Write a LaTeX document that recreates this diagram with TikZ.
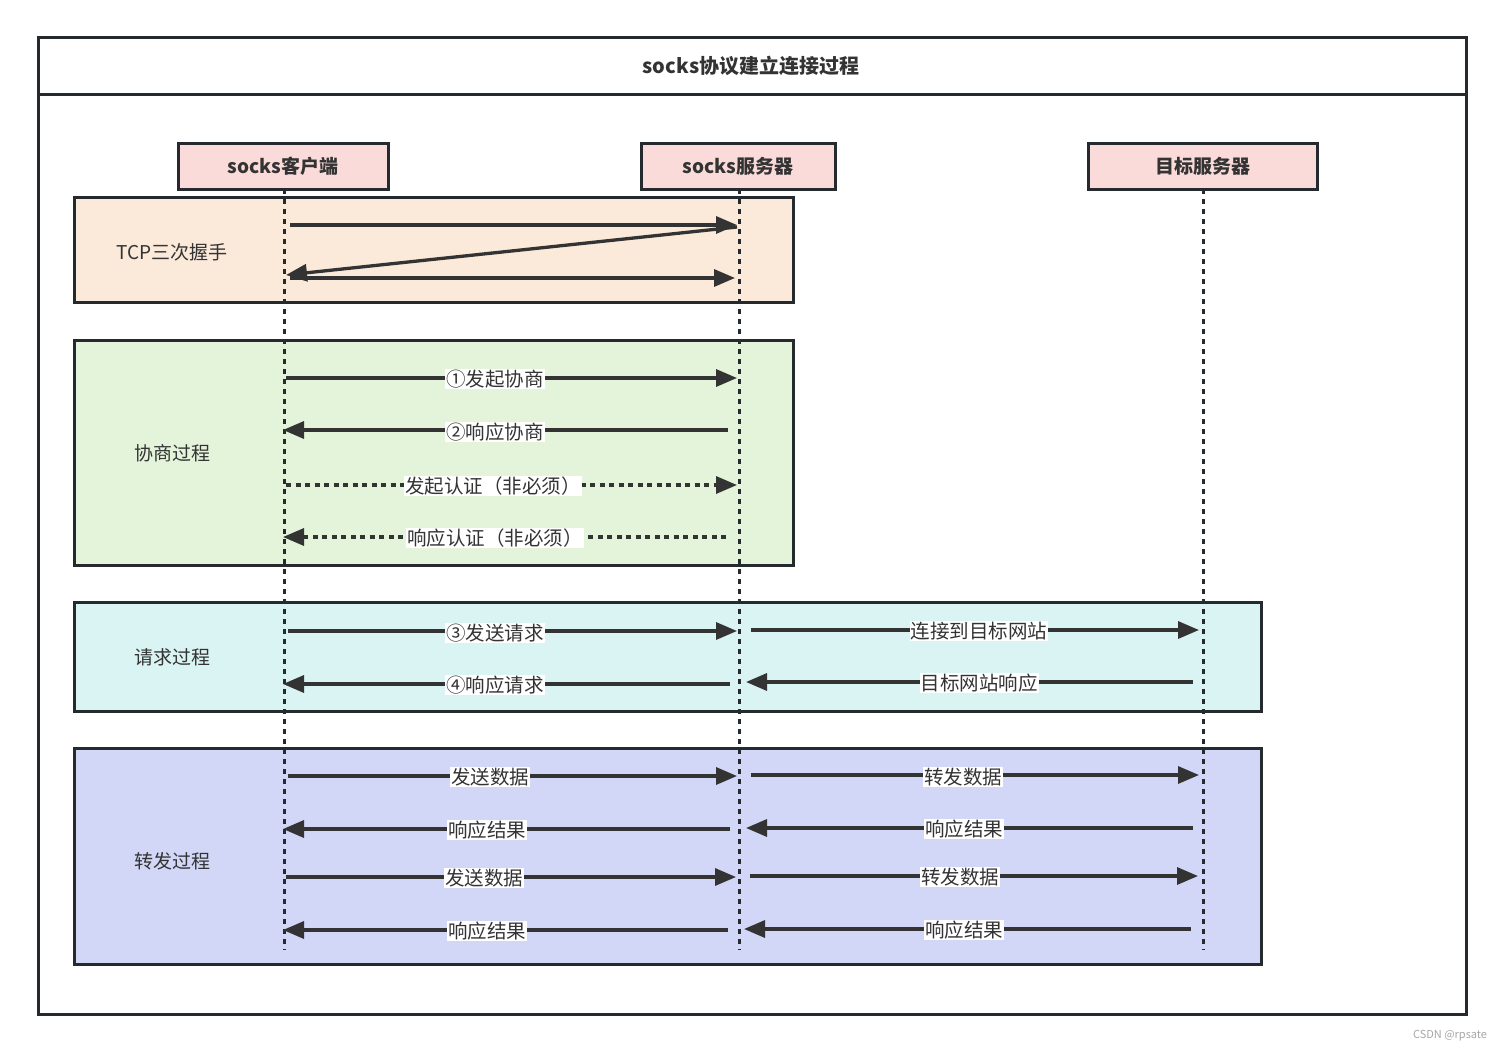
\documentclass[tikz,border=0pt]{standalone}
\usepackage{fontspec}
\setmainfont{Noto Sans CJK SC}
\usetikzlibrary{arrows.meta}
\definecolor{ink}{HTML}{333333}
\definecolor{frm}{HTML}{252A2E}
\definecolor{headpink}{HTML}{FADBD9}
\definecolor{peach}{HTML}{FBE9DA}
\definecolor{lgreen}{HTML}{E4F4DB}
\definecolor{lcyan}{HTML}{DAF3F3}
\definecolor{lviolet}{HTML}{D2D6F7}
\tikzset{
  head/.style={draw=frm, line width=3pt, fill=headpink, font=\fontsize{19}{22}\selectfont\bfseries, text=ink, anchor=north west, inner sep=0pt, outer sep=0pt},
  grp/.style={draw=frm, line width=3pt, anchor=north west, inner sep=0pt, outer sep=0pt},
  grplabel/.style={font=\fontsize{19}{22}\selectfont, text=ink},
  life/.style={draw=frm, line width=3pt, dash pattern=on 5pt off 5pt},
  msg/.style={draw=ink, line width=3.3pt, -{Triangle[length=21pt,width=17pt]}},
  dmsg/.style={msg, dash pattern=on 5pt off 4.5pt},
  lbl/.style={fill=white, inner sep=1pt, font=\fontsize{19.5}{22}\selectfont, text=ink},
}
\begin{document}
\begin{tikzpicture}[x=1pt,y=-1pt]
\useasboundingbox (0,0) rectangle (1503,1051);
% outer frame
\node[grp, minimum width=1428pt, minimum height=976pt] (frame) at (38,38) {};
\node[grp, minimum width=1428pt, minimum height=57pt] (titlebar) at (38,38) {};
\node[font=\fontsize{20}{22}\selectfont\bfseries, text=ink] (title) at (751,66) {socks协议建立连接过程};
% group boxes
\node[grp, fill=peach, minimum width=719pt, minimum height=105pt] (g1) at (74,197) {};
\node[grp, fill=lgreen, minimum width=719pt, minimum height=225pt] (g2) at (74,340) {};
\node[grp, fill=lcyan, minimum width=1187pt, minimum height=109pt] (g3) at (74,602) {};
\node[grp, fill=lviolet, minimum width=1187pt, minimum height=216pt] (g4) at (74,748) {};
\node[grplabel] (l1) at (172,252) {TCP三次握手};
\node[grplabel] (l2) at (172,453) {协商过程};
\node[grplabel] (l3) at (172,657) {请求过程};
\node[grplabel] (l4) at (172,861) {转发过程};
% heads
\node[head, minimum width=210pt, minimum height=45pt] (cl) at (178,144) {socks客户端};
\node[head, minimum width=194pt, minimum height=45pt] (sv) at (641,144) {socks服务器};
\node[head, minimum width=229pt, minimum height=45pt] (tg) at (1088,144) {目标服务器};
% lifelines
\coordinate (clend) at (284,950);
\coordinate (svend) at (739,950);
\coordinate (tgend) at (1203,950);
\draw[life] (cl.south -| clend) -- (clend);
\draw[life] (sv.south -| svend) -- (svend);
\draw[life] (tg.south -| tgend) -- (tgend);
% TCP handshake
\coordinate (t1a) at (290,225); \coordinate (t1b) at (737,225);
\coordinate (t2a) at (737,227); \coordinate (t2b) at (286,275);
\coordinate (t3a) at (290,278); \coordinate (t3b) at (735,278);
\draw[msg] (t1a) -- (t1b);
\draw[msg] (t2a) -- (t2b);
\draw[msg] (t3a) -- (t3b);
% negotiation
\coordinate (n1a) at (286,378); \coordinate (n1b) at (737,378);
\coordinate (n2a) at (728,430); \coordinate (n2b) at (283,430);
\coordinate (n3a) at (286,485); \coordinate (n3b) at (737,485);
\coordinate (n4a) at (726,537); \coordinate (n4b) at (283,537);
\draw[msg] (n1a) -- (n1b);
\draw[msg] (n2a) -- (n2b);
\draw[dmsg] (n3a) -- (n3b);
\draw[dmsg] (n4a) -- (n4b);
\node[lbl] (m1) at (495,379) {①发起协商};
\node[lbl] (m2) at (495,432) {②响应协商};
\node[lbl] (m3) at (493,486) {发起认证（非必须）};
\node[lbl] (m4) at (495,538) {响应认证（非必须）};
% request
\coordinate (r1a) at (288,631); \coordinate (r1b) at (737,631);
\coordinate (r2a) at (751,630); \coordinate (r2b) at (1199,630);
\coordinate (r3a) at (730,684); \coordinate (r3b) at (283,684);
\coordinate (r4a) at (1193,682); \coordinate (r4b) at (746,682);
\draw[msg] (r1a) -- (r1b);
\draw[msg] (r2a) -- (r2b);
\draw[msg] (r3a) -- (r3b);
\draw[msg] (r4a) -- (r4b);
\node[lbl] (q1) at (495,633) {③发送请求};
\node[lbl] (q2) at (979,631) {连接到目标网站};
\node[lbl] (q3) at (495,685) {④响应请求};
\node[lbl] (q4) at (979,683) {目标网站响应};
% forwarding
\coordinate (f1a) at (288,776); \coordinate (f1b) at (737,776);
\coordinate (f2a) at (751,775); \coordinate (f2b) at (1199,775);
\coordinate (f3a) at (730,829); \coordinate (f3b) at (283,829);
\coordinate (f4a) at (1193,828); \coordinate (f4b) at (746,828);
\coordinate (f5a) at (286,877); \coordinate (f5b) at (736,877);
\coordinate (f6a) at (750,876); \coordinate (f6b) at (1198,876);
\coordinate (f7a) at (728,930); \coordinate (f7b) at (283,930);
\coordinate (f8a) at (1191,929); \coordinate (f8b) at (744,929);
\foreach \p in {f1,f2,f3,f4,f5,f6,f7,f8} \draw[msg] (\p a) -- (\p b);
\node[lbl] (d1) at (490,777) {发送数据};
\node[lbl] (d2) at (963,777) {转发数据};
\node[lbl] (d3) at (487,830) {响应结果};
\node[lbl] (d4) at (964,829) {响应结果};
\node[lbl] (d5) at (484,878) {发送数据};
\node[lbl] (d6) at (960,877) {转发数据};
\node[lbl] (d7) at (487,931) {响应结果};
\node[lbl] (d8) at (964,930) {响应结果};
% watermark
\node[text=gray!70, font=\fontsize{11}{12}\selectfont] (wm) at (1450,1036) {CSDN @rpsate};
\end{tikzpicture}
\end{document}
